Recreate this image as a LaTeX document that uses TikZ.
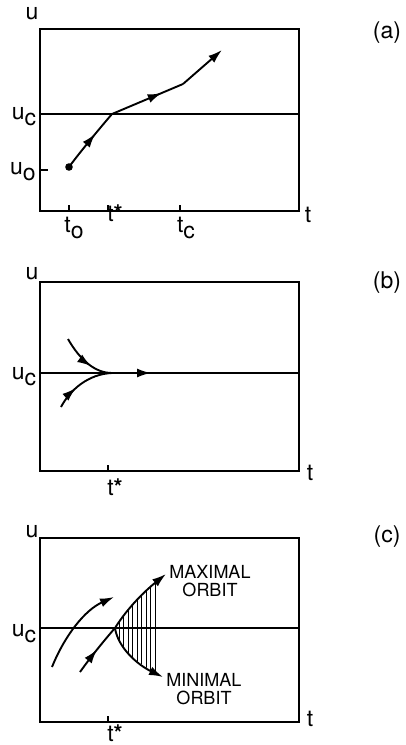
\documentclass[tikz,border=0pt]{standalone}
\usepackage{fontspec}
\setmainfont{TeX Gyre Heros}
\usetikzlibrary{arrows.meta,decorations.markings}
\tikzset{
  frame/.style={line width=1.1pt},
  orbit/.style={line width=1.9pt},
  tip/.style={-{Latex[length=14pt,width=9pt]}},
  midarrow/.style={postaction={decorate},decoration={markings,
      mark=at position #1 with {\arrow{Latex[length=14pt,width=9pt]}}}},
  lbl/.style={font=\fontsize{23}{23}\selectfont,inner sep=0pt},
  orbitlbl/.style={font=\fontsize{18}{18.5}\selectfont,align=center,inner sep=0pt},
}
\newcommand{\lowidx}[1]{\raisebox{-0.5ex}{#1}}
\begin{document}
\begin{tikzpicture}[x=1pt,y=-1pt]
	\useasboundingbox (0,0) rectangle (405,745);
	% (a)
	\draw[frame] (40,29) rectangle (299,211);
	\draw[frame] (40,114) -- (299,114);
	\draw[frame] (40,170) -- (48,170);
	\foreach \x in {69,108,180} \draw[frame] (\x,211) -- (\x,205);
	\coordinate (a0) at (69,167);
	\coordinate (a1) at (112,114);
	\coordinate (a2) at (183,84);
	\coordinate (a3) at (222,50);
	\fill (a0) circle (3.8pt);
	\draw[orbit,midarrow=0.62] (a0) .. controls (80,152) and (100,128) .. (a1);
	\draw[orbit,midarrow=0.7] (a1) -- (a2);
	\draw[orbit,tip] (a2) -- (a3);
	\node[lbl] (ua) at (32,14) {u};
	\node[lbl] (ta) at (308,215) {t};
	\node[lbl] (pa) at (387,33) {(a)};
	\node[lbl] (uca) at (24,117) {u\lowidx{c}};
	\node[lbl] (u0a) at (23,172) {u\lowidx{o}};
	\node[lbl] (t0a) at (74,228) {t\lowidx{o}};
	\node[lbl] (tsa) at (115,213) {t\textbf{*}};
	\node[lbl] (tca) at (186,228) {t\lowidx{c}};
	% (b)
	\draw[frame] (40,282) rectangle (299,471);
	\draw[frame] (40,373) -- (299,373);
	\draw[frame] (108,471) -- (108,465);
	\coordinate (b1) at (112,373);
	\draw[orbit,midarrow=0.62] (68,339) .. controls (80,360) and (95,373) .. (b1);
	\draw[orbit,midarrow=0.38] (61,407) .. controls (70,390) and (88,374) .. (b1);
	\draw[orbit,tip] (b1) -- (151,373);
	\node[lbl] (ub) at (32,274) {u};
	\node[lbl] (tb) at (310,473) {t};
	\node[lbl] (pb) at (387,283) {(b)};
	\node[lbl] (ucb) at (24,377) {u\lowidx{c}};
	\node[lbl] (tsb) at (115,487) {t\textbf{*}};
	% (c)
	\draw[frame] (40,538) rectangle (299,722);
	\draw[frame] (40,628) -- (299,628);
	\draw[frame] (108,722) -- (108,716);
	\coordinate (c1) at (115,628);
	\begin{scope}
		\clip (c1) .. controls (125,612) and (140,595) .. (165,575) -- (162,676)
			.. controls (138,665) and (118,648) .. (c1) -- cycle;
		\foreach \x in {119,123.5,...,157} \draw[line width=0.9pt] (\x,560) -- (\x,690);
	\end{scope}
	\draw[orbit,tip] (52,667) .. controls (65,635) and (85,610) .. (114,597);
	\draw[orbit,midarrow=0.5] (80,672) .. controls (90,658) and (102,643) .. (c1);
	\draw[orbit,tip] (c1) .. controls (125,612) and (140,595) .. (166,574);
	\draw[orbit,tip] (c1) .. controls (118,648) and (138,665) .. (163,677);
	\node[orbitlbl] (maxorb) at (210,581) {MAXIMAL\\ORBIT};
	\node[orbitlbl] (minorb) at (204,689) {MINIMAL\\ORBIT};
	\node[lbl] (uc) at (32,532) {u};
	\node[lbl] (tc) at (310,719) {t};
	\node[lbl] (pc) at (387,537) {(c)};
	\node[lbl] (ucc) at (24,634) {u\lowidx{c}};
	\node[lbl] (tsc) at (115,733) {t\textbf{*}};
\end{tikzpicture}
\end{document}
